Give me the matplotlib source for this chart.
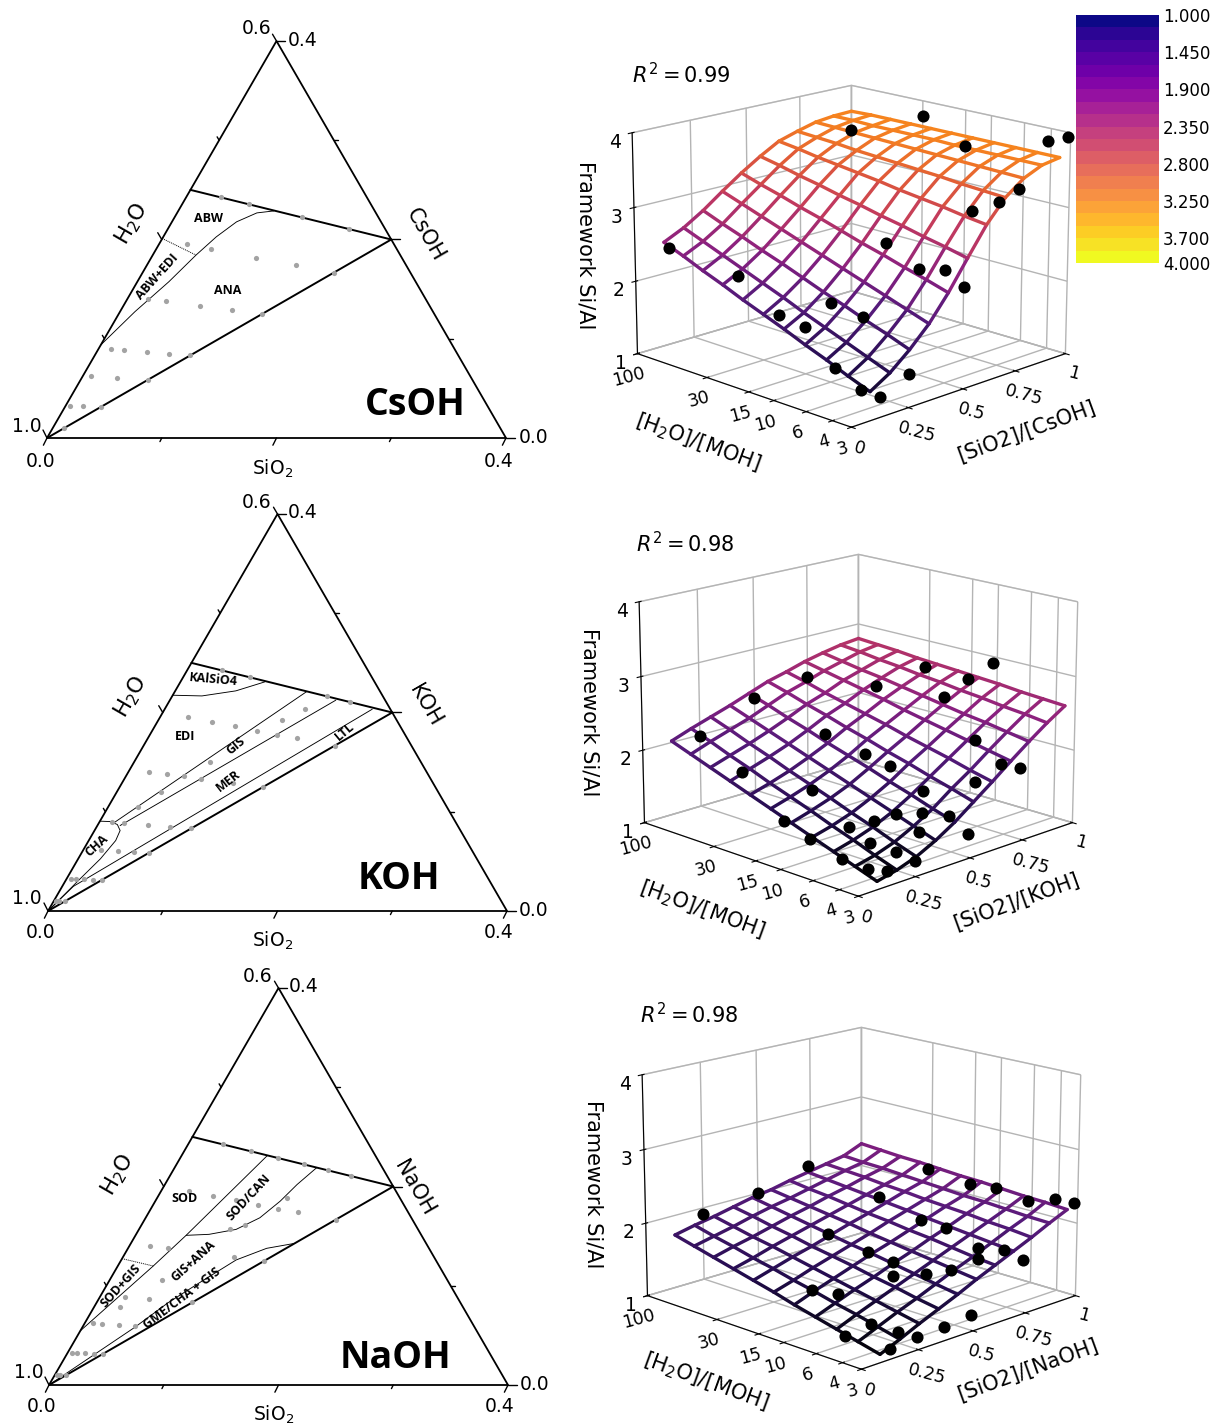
import numpy as np
import matplotlib
matplotlib.use("Agg")
import matplotlib.pyplot as plt
from matplotlib.colors import Normalize, LinearSegmentedColormap
from mpl_toolkits.mplot3d.art3d import Line3DCollection

W, H = 1214, 1425
plt.rcParams['font.family'] = ['DejaVu Sans']
plt.rcParams['grid.color'] = '#b4b4b4'
plt.rcParams['grid.linewidth'] = 1.0
plt.rcParams['mathtext.default'] = 'regular'

# ---------------- ternary data -------------------
ratio_ticks = [0.0, 0.1, 0.2, 0.3, 0.4]

# experiments: [H2O]/[MOH], [SiO2]/[MOH]
cs_r = [3, 3, 3, 3, 4, 4, 4, 4, 4, 6, 6, 6, 6, 6, 10, 10, 10, 10, 10, 15, 15, 15, 30, 30, 30, 100]
cs_x = [.125, .25, .5, .75, .125, .25, .5, .75, 1, .125, .25, .5, .75, 1, .125, .25, .5, .75, 1, .125, .5, 1, .125, .5, 1, 1]

k_r = [3, 3, 3, 3, 4, 4, 4, 4, 3.64, 3.31, 4, 4, 4, 6, 6, 6, 6, 6, 6, 5.2, 7, 8.3, 10, 10, 10, 10, 10,
       15, 15, 15, 15, 30, 30, 30, 30, 30, 100, 100, 100]
k_x = [.125, .25, .625, .75, .125, .25, .375, .5, .56, .6, .625, .75, 1, .125, .25, .375, .5, .75, 1, .44, .32, .25,
       .125, .25, .5, .75, 1, .25, .5, .75, 1, .125, .25, .5, .75, 1, .25, .5, 1]

na_r = [3, 3, 3, 3, 3, 3, 4, 4, 4, 4, 4, 4, 4, 3.7, 6, 6, 4.85, 4.65, 6, 6, 8, 10, 10, 10, 11.5,
        15, 15, 15, 15, 30, 30, 30, 30, 30, 100, 100, 100]
na_x = [.125, .25, .375, .5, .625, .75, .125, .25, .375, .5, .625, .75, 1, .6, .125, .25, .5, .56, .75, 1, .43, .25, .5, 1, .29,
        .125, .25, .5, .75, .125, .25, .5, .75, 1, .25, .5, 1]

# boundaries as (SiO2, MOH) mole fractions
edge_top_s, edge_top_m = [0.0, 0.2], [0.25, 0.2]
edge_low_s, edge_low_m = [0.0, 0.2], [0.0, 0.2]

cs_curve_s = [0.0, .013, .0275, .0377, .0462, .0563, .0695, .0833]
cs_curve_m = [.0938, .1273, .1575, .1843, .2027, .2178, .2268, .2288]
cs_dot_s, cs_dot_m = [0.0, .0377], [.201, .1843]

k_a_s, k_a_m = [0.0, .0258, .0528, .0734], [.2174, .2167, .2218, .2308]
k_b_s, k_b_m = [.0134, .1147], [.0894, .2208]
k_c_s, k_c_m = [.0198, .1446], [.0861, .2124]
k_d_s, k_d_m = [0.0, .0097, .1809], [0.0, .0248, .2033]
k_e_s = [0.0, .0095, .0169, .0223, .0235, .0194, .0118, 0.0]
k_e_m = [.0905, .0901, .0871, .0811, .071, .0526, .0325, 0.0]

na_a_s, na_a_m = [0.0, .0309, .0441, .0747], [.0546, .1199, .1508, .2312]
na_b_s = [.0441, .0636, .0847, .0995, .1089, .1152, .1237]
na_b_m = [.1508, .1518, .1568, .1685, .1853, .202, .2188]
na_dot_s, na_dot_m = [0.0, .0309], [.1273, .1199]
na_c_s = [0.0, .0456, .0625, .0812, .1001, .1208, .1427]
na_c_m = [0.0, .058, .0831, .1049, .126, .1377, .1427]

# ---------------- 3D data -------------------
x_ticks = [0, .25, .5, .75, 1]
x_labels = ['0', '0.25', '0.5', '0.75', '1']
r_ticks = [3, 4, 6, 10, 15, 30, 100]
z_ticks = [1, 2, 3, 4]
mesh_x = [.125, .2125, .3, .3875, .475, .5625, .65, .7375, .825, .9125, 1]
mesh_r = [3.5, 4.9, 6.84, 9.57, 13.4, 18.7, 26.2, 36.6, 51.2, 71.5, 100]

cs_mesh = [
 [1.29, 1.45, 1.67, 1.93, 2.26, 2.64, 3.01, 3.30, 3.49, 3.60, 3.64],
 [1.40, 1.56, 1.78, 2.03, 2.35, 2.71, 3.05, 3.32, 3.50, 3.60, 3.64],
 [1.52, 1.67, 1.88, 2.13, 2.43, 2.77, 3.10, 3.34, 3.51, 3.60, 3.64],
 [1.63, 1.78, 1.99, 2.23, 2.52, 2.84, 3.14, 3.37, 3.52, 3.60, 3.64],
 [1.75, 1.89, 2.09, 2.33, 2.60, 2.90, 3.18, 3.39, 3.53, 3.60, 3.64],
 [1.86, 2.01, 2.20, 2.43, 2.69, 2.97, 3.23, 3.41, 3.54, 3.61, 3.64],
 [1.97, 2.12, 2.31, 2.53, 2.78, 3.03, 3.27, 3.43, 3.55, 3.61, 3.64],
 [2.09, 2.23, 2.41, 2.63, 2.86, 3.10, 3.31, 3.45, 3.56, 3.61, 3.64],
 [2.20, 2.34, 2.52, 2.73, 2.95, 3.16, 3.35, 3.48, 3.57, 3.61, 3.64],
 [2.32, 2.45, 2.62, 2.83, 3.03, 3.23, 3.40, 3.50, 3.58, 3.62, 3.64],
 [2.43, 2.56, 2.73, 2.93, 3.12, 3.29, 3.44, 3.52, 3.59, 3.62, 3.63]]
k_mesh = [
 [1.02, 1.08, 1.17, 1.30, 1.46, 1.65, 1.84, 2.04, 2.23, 2.41, 2.57],
 [1.12, 1.18, 1.27, 1.40, 1.55, 1.74, 1.91, 2.10, 2.28, 2.45, 2.59],
 [1.22, 1.29, 1.38, 1.50, 1.65, 1.82, 1.99, 2.16, 2.33, 2.48, 2.61],
 [1.32, 1.39, 1.48, 1.60, 1.74, 1.91, 2.06, 2.22, 2.37, 2.52, 2.64],
 [1.42, 1.50, 1.59, 1.70, 1.84, 1.99, 2.13, 2.28, 2.42, 2.55, 2.66],
 [1.52, 1.60, 1.69, 1.80, 1.93, 2.08, 2.21, 2.34, 2.47, 2.59, 2.68],
 [1.62, 1.70, 1.79, 1.90, 2.02, 2.16, 2.28, 2.41, 2.52, 2.62, 2.70],
 [1.72, 1.81, 1.90, 2.00, 2.12, 2.25, 2.35, 2.47, 2.57, 2.66, 2.72],
 [1.82, 1.91, 2.00, 2.10, 2.21, 2.33, 2.42, 2.53, 2.61, 2.69, 2.75],
 [1.92, 2.02, 2.11, 2.20, 2.31, 2.42, 2.50, 2.59, 2.66, 2.73, 2.77],
 [2.02, 2.12, 2.21, 2.30, 2.40, 2.50, 2.57, 2.65, 2.71, 2.76, 2.79]]
na_mesh = [
 [1.02, 1.13, 1.25, 1.36, 1.47, 1.59, 1.70, 1.81, 1.92, 2.04, 2.15],
 [1.09, 1.20, 1.31, 1.41, 1.52, 1.63, 1.73, 1.84, 1.95, 2.05, 2.17],
 [1.16, 1.27, 1.37, 1.47, 1.57, 1.67, 1.77, 1.87, 1.97, 2.07, 2.18],
 [1.23, 1.33, 1.43, 1.52, 1.62, 1.71, 1.81, 1.90, 2.00, 2.09, 2.20],
 [1.30, 1.40, 1.49, 1.58, 1.67, 1.75, 1.84, 1.93, 2.02, 2.10, 2.22],
 [1.38, 1.46, 1.55, 1.63, 1.71, 1.79, 1.88, 1.96, 2.04, 2.12, 2.23],
 [1.45, 1.53, 1.61, 1.68, 1.76, 1.84, 1.91, 1.99, 2.07, 2.14, 2.25],
 [1.52, 1.59, 1.67, 1.74, 1.81, 1.88, 1.95, 2.02, 2.09, 2.16, 2.27],
 [1.59, 1.66, 1.72, 1.79, 1.86, 1.92, 1.99, 2.05, 2.12, 2.18, 2.28],
 [1.66, 1.72, 1.78, 1.85, 1.91, 1.96, 2.02, 2.08, 2.14, 2.19, 2.30],
 [1.73, 1.79, 1.84, 1.90, 1.96, 2.00, 2.06, 2.11, 2.16, 2.21, 2.32]]

cs_dot_x = [.125, .25, .5, .75, .125, .5, .75, .985, .985, .125, .25, .5, .75, 1, .135, .25, .5, .135, .14, 1, .145, 1]
cs_dot_r = [3, 3, 3, 3, 4, 4, 4, 4, 3, 6, 6, 6, 6, 15, 10, 10, 10, 15, 30, 30, 100, 100]
cs_dot_z = [1.26, 1.44, 2.35, 3.44, 1.27, 2.50, 3.20, 3.85, 3.95, 1.45, 2.00, 2.42, 3.00, 3.50, 1.84, 2.06, 2.65, 1.90, 2.25, 3.79, 2.33, 3.36]

k_dot_x = [.25, .5, .75, .74, .98, .98, .98, .74, .5, .125, .49, .49, .735, .735, .735, .61, .49, .25, .365, .365, .31, .49, .25, .125, .43, .49, .125, .25, .25, .125, .25, .125, .125]
k_dot_r = [100, 100, 100, 30, 30, 15, 10, 10, 30, 30, 15, 10, 6, 4, 3, 4, 6, 15, 4, 6, 7, 4, 8.3, 15, 5.2, 3, 10, 6, 4, 6, 3, 4, 3]
k_dot_z = [1.98, 2.32, 2.42, 2.57, 2.65, 2.63, 2.94, 2.66, 2.09, 1.89, 1.99, 1.93, 2.20, 1.97, 1.99, 1.84, 1.72, 1.71, 1.65, 1.53, 1.45, 1.49, 1.37, 1.41, 1.27, 1.33, 1.29, 1.25, 1.24, 1.16, 1.20, 1.14, 1.20]

na_dot_x = [.25, .5, .74, .98, .98, .98, .98, .98, .98, .74, .74, .74, .5, .49, .49, .34, .49, .61, .735, .61, .735, .735, .125, .24, .49, .125, .125, .245, .245, .365, .125]
na_dot_r = [100, 100, 100, 30, 15, 10, 6, 4, 3, 30, 15, 10, 30, 15, 10, 6, 6, 6, 6, 4, 4, 3, 10, 10, 3, 4, 6, 4, 3, 3, 3]
na_dot_z = [1.92, 2.01, 2.19, 2.24, 2.18, 2.22, 2.15, 2.28, 2.29, 2.03, 1.88, 1.86, 1.71, 1.65, 1.62, 1.70, 1.59, 1.53, 1.72, 1.79, 1.79, 1.73, 1.57, 1.42, 1.22, 1.38, 1.11, 1.16, 1.17, 1.19, 1.14]

bar_ticks = [1.0, 1.45, 1.9, 2.35, 2.8, 3.25, 3.7, 4.0]

mesh_cmap = LinearSegmentedColormap.from_list('mesh', [
    (0.0, '#030206'), (0.08, '#0e0824'), (1 / 6, '#240d50'), (1 / 3, '#551a7a'), (0.47, '#8a2080'),
    (0.63, '#c03860'), (0.77, '#e05a38'), (0.87, '#f58020'), (1.0, '#ffaa10')])

# ---------------- drawing -------------------
fig = plt.figure(figsize=(W / 100, H / 100), dpi=100)


def tx(s, m):
    s, m = np.asarray(s, float), np.asarray(m, float)
    return s / 0.4 + m / 0.8, m / 0.4


def ptext(x, y, s, **kw):
    kw.setdefault('ha', 'center')
    kw.setdefault('va', 'center')
    kw.setdefault('rotation_mode', 'anchor')
    fig.text(x / W, 1 - y / H, s, **kw)


def ternary(x0, y0, r, x, thick, thin, dotted):
    tw, th = 459.0, 397.0
    ax = fig.add_axes([x0 / W, 1 - y0 / H, tw / W, th / H])
    ax.set_xlim(0, 1)
    ax.set_ylim(0, 1)
    ax.axis('off')
    kw = dict(color='k', clip_on=False, solid_capstyle='round')
    fx, fy = tx([0, .4, 0, 0], [0, 0, .4, 0])
    ax.plot(fx, fy, lw=1.3, **kw)
    for t in ratio_ticks:
        L = 8.0 if t in (0.0, 0.2, 0.4) else 4.0
        bx, by = tx(t, 0)
        ax.plot([bx, bx - 0.45 * L / tw], [by, by - 0.9 * L / th], lw=1.0, **kw)
        lx, ly = tx(0, t)
        if t > 0:
            ax.plot([lx, lx - 0.5 * L / tw], [ly, ly + 0.85 * L / th], lw=1.0, **kw)
        rx, ry = tx(0.4 - t, t)
        ax.plot([rx, rx + L * 1.1 / tw], [ry, ry], lw=1.0, **kw)
    lx, ly = tx(0, 0)
    ax.plot([lx, lx - 4 / tw], [ly, ly + 8 / th], lw=1.0, **kw)
    for ss, mm in thick:
        ax.plot(*tx(ss, mm), lw=1.4, **kw)
    for ss, mm in thin:
        ax.plot(*tx(ss, mm), lw=0.65, **kw)
    for ss, mm in dotted:
        ax.plot(*tx(ss, mm), lw=0.7, color='k', ls=(0, (1, 1)))
    rr, xx = np.asarray(r, float), np.asarray(x, float)
    m = 1 / (1 + rr + xx)
    ax.scatter(*tx(xx * m, m), s=14, color='#a3a3a3', linewidths=0, zorder=3, clip_on=False)


def surf3d(cx, cy, S, mesh, dx, dr, dz, r2, r2xy, sio2label, xlab, ylab, zlab):
    ax = fig.add_axes([(cx - S / 2) / W, 1 - (cy + S / 2) / H, S / W, S / H], projection='3d',
                      computed_zorder=False)
    ax.view_init(elev=16, azim=-135)
    ax.patch.set_alpha(0)
    for a in (ax.xaxis, ax.yaxis, ax.zaxis):
        a.pane.set_facecolor((1, 1, 1, 0))
        a.pane.set_edgecolor('#b4b4b4')
    ly = np.log10(mesh_r)
    Z = np.asarray(mesh)
    segs, vals = [], []
    nr, nx = Z.shape
    for j in range(nr):
        for i in range(nx):
            if i + 1 < nx:
                segs.append([(mesh_x[i], ly[j], Z[j, i]), (mesh_x[i + 1], ly[j], Z[j, i + 1])])
                vals.append((Z[j, i] + Z[j, i + 1]) / 2)
            if j + 1 < nr:
                segs.append([(mesh_x[i], ly[j], Z[j, i]), (mesh_x[i], ly[j + 1], Z[j + 1, i])])
                vals.append((Z[j, i] + Z[j + 1, i]) / 2)
    lc = Line3DCollection(segs, cmap=mesh_cmap, norm=Normalize(1, 4), linewidths=2.4, zorder=2)
    lc.set_array(np.array(vals))
    lc.set_capstyle('round')
    ax.add_collection3d(lc)
    ax.scatter(dx, np.log10(dr), dz, s=76, c='k', depthshade=False, linewidths=0, zorder=3)
    ax.set_xlim(0, 1)
    ax.set_ylim(np.log10(3), 2)
    ax.set_zlim(1, 4)
    ax.set_xticks(x_ticks)
    ax.set_xticklabels(x_labels, fontsize=12.5, rotation=-15)
    ax.set_yticks(np.log10(r_ticks))
    ax.set_yticklabels([str(v) for v in r_ticks], fontsize=12.5, rotation=15)
    ax.set_zticks(z_ticks)
    ax.set_zticklabels([str(v) for v in z_ticks], fontsize=13.5)
    ax.tick_params(axis='x', pad=-1.5)
    ax.tick_params(axis='y', pad=-1.5)
    ax.tick_params(axis='z', pad=-1)
    ptext(xlab[0], xlab[1], sio2label, fontsize=15, rotation=20)
    ptext(ylab[0], ylab[1], '[H$_2$O]/[MOH]', fontsize=15, rotation=-20)
    ptext(zlab[0], zlab[1], 'Framework Si/Al', fontsize=15, rotation=270)
    ptext(r2xy[0], r2xy[1], r2, fontsize=15)
    return ax


ternary(47, 438, cs_r, cs_x,
        [(edge_top_s, edge_top_m), (edge_low_s, edge_low_m)],
        [(cs_curve_s, cs_curve_m)], [(cs_dot_s, cs_dot_m)])
ternary(48, 911, k_r, k_x,
        [(edge_top_s, edge_top_m), (edge_low_s, edge_low_m)],
        [(k_a_s, k_a_m), (k_b_s, k_b_m), (k_c_s, k_c_m), (k_d_s, k_d_m), (k_e_s, k_e_m)], [])
ternary(49, 1385, na_r, na_x,
        [(edge_top_s, edge_top_m), (edge_low_s, edge_low_m)],
        [(na_a_s, na_a_m), (na_b_s, na_b_m), (na_c_s, na_c_m)], [(na_dot_s, na_dot_m)])

# ternary texts
BIG = dict(family=['Open Sans', 'DejaVu Sans'], fontweight='bold')
TF = 13.5
for (top, y_bot, xl, lbl, lblxy, big, bigxy) in [
    ((271, 29, 288, 41), 461, 41, 'CsOH', (425, 235), 'CsOH', (415, 405)),
    ((271, 502, 288, 513), 933, 41, 'KOH', (425, 705), 'KOH', (399, 879)),
    ((272, 976, 289, 987), 1407, 42, 'NaOH', (414, 1188), 'NaOH', (396, 1358)),
]:
    ptext(top[0], top[1], '0.6', fontsize=TF, ha='right')
    ptext(top[2], top[3], '0.4', fontsize=TF, ha='left')
    ptext(xl, y_bot, '0.0', fontsize=TF)
    ptext(xl + 458, y_bot, '0.4', fontsize=TF)
    ptext(xl + 478, y_bot - 23, '0.0', fontsize=TF, ha='left')
    ptext(27 + (xl - 41) * 2, y_bot - 34, '1.0', fontsize=TF)
    ptext(xl + 232, y_bot + 8, 'SiO$_2$', fontsize=TF)
    ptext(lblxy[0], lblxy[1], lbl, fontsize=TF + 1.5, rotation=-60)
    ptext(bigxy[0], bigxy[1], big, fontsize=27, **BIG)
ptext(132, 224, 'H$_2$O', fontsize=TF + 2, rotation=60)
ptext(131, 697, 'H$_2$O', fontsize=TF + 2, rotation=60)
ptext(118, 1175, 'H$_2$O', fontsize=TF + 2, rotation=60)

SMALL = dict(family=['Open Sans', 'DejaVu Sans'], fontweight='bold', fontsize=9)
for xp, yp, s, rot in [
    (209, 219, 'ABW', 0), (228, 291, 'ANA', 0), (157, 277, 'ABW+EDI', 48),
    (213, 680, 'KAlSiO4', -5), (185, 736, 'EDI', 0), (236, 746, 'GIS', 40), (228, 781, 'MER', 38),
    (345, 732, 'LTL', 40), (97, 846, 'CHA', 42),
    (185, 1198, 'SOD', 0), (249, 1197, 'SOD/CAN', 47), (193, 1261, 'GIS+ANA', 42),
    (121, 1286, 'SOD+GIS', 48), (182, 1298, 'GME/CHA + GIS', 37)]:
    ptext(xp, yp, s, rotation=rot, **SMALL)

# 3D panels
surf3d(845, 251, 476, cs_mesh, cs_dot_x, cs_dot_r, cs_dot_z, '$\\mathit{R}^2 = 0.99$', (681, 75), '[SiO2]/[CsOH]',
       (1027, 432), (698, 442), (585, 245))
surf3d(852, 720, 476, k_mesh, k_dot_x, k_dot_r, k_dot_z, '$\\mathit{R}^2 = 0.98$', (685, 544), '[SiO2]/[KOH]',
       (1017, 902), (702, 909), (590, 712))
surf3d(855, 1193, 476, na_mesh, na_dot_x, na_dot_r, na_dot_z, '$\\mathit{R}^2 = 0.98$', (689, 1015), '[SiO2]/[NaOH]',
       (1028, 1370), (706, 1381), (593, 1184))

# colour bar
cax = fig.add_axes([1076 / W, 1 - 263 / H, 83 / W, 248 / H])
edges = np.linspace(bar_ticks[0], bar_ticks[-1], 21)
vals = np.linspace(0, 1, 20)
cax.pcolormesh([0, 1], edges, vals[:, None], cmap='plasma', vmin=0, vmax=1)
cax.set_ylim(4, 1)
cax.set_xticks([])
cax.yaxis.tick_right()
cax.set_yticks(bar_ticks)
cax.set_yticklabels(['%.3f' % v for v in bar_ticks], fontsize=12)
cax.tick_params(axis='y', length=0, pad=3)
for sp in cax.spines.values():
    sp.set_visible(False)

fig.savefig('out.png', dpi=100, facecolor='white')
